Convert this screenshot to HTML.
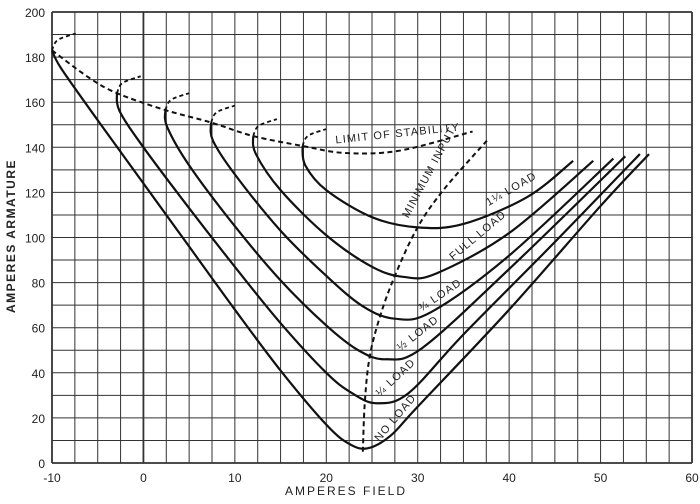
<!DOCTYPE html>
<html><head><meta charset="utf-8"><style>
html,body{margin:0;padding:0;background:#fff}
svg text{font-family:"Liberation Sans",sans-serif;fill:#222}
</style></head><body>
<svg id="chart" width="700" height="499" viewBox="0 0 700 499" xmlns="http://www.w3.org/2000/svg">
<g id="grid"></g>
<g id="curves"></g>
<g id="labels"></g>
<text transform="translate(15,236) rotate(-90)" text-anchor="middle" font-size="12" font-weight="bold" letter-spacing="1.5">AMPERES ARMATURE</text>
<text x="346" y="495" text-anchor="middle" font-size="12" letter-spacing="2">AMPERES FIELD</text>
</svg>
<script>
const xTicks = [-10,0,10,20,30,40,50,60];
const yTicks = [0,20,40,60,80,100,120,140,160,180,200];
const noLoad = [[-10,183],[-9,175],[-5,152],[0,124],[5,96],[10,68],[15,41],[20,17],[22.5,8.5],[24.5,6.5],[27,12],[30,25],[40,68],[50,114],[55.3,137]];
const quarterLoad = [[-2.9,164],[-2.6,156],[0,140],[5,113],[10,87],[15,62],[20,40],[22.8,31],[25.5,26.5],[29,31],[35,57],[45,98],[54.3,137]];
const halfLoad = [[2.4,156.5],[2.6,149],[5,132],[10,105],[15,81],[20,61],[23.5,50],[26.5,46],[30.5,51],[40,86],[52.7,136]];
const threeQuarterLoad = [[7.4,151],[7.6,143],[10,128],[15,103],[20,83],[24,69.5],[27.5,64],[31.5,67],[40,92],[51.4,135]];
const fullLoad = [[12,145],[12.3,137],[15,121],[20,101],[25,87],[28.5,82.5],[32,84],[40,102],[49.2,134]];
const oneQuarterLoad = [[17.4,140.6],[17.7,132],[20,121],[25,109],[30,104.5],[35,106],[42,118],[47,134]];
const minimumInput = [[24,5],[24.2,26],[24.7,46],[25.8,64],[27.5,83],[30,104.6],[33,122],[37.8,144]];
const limitStability = [[-10,183],[-6,171],[-2.9,164],[2.4,156.5],[7.4,151],[12,145],[17.4,140.6],[22,137.5],[28,138.5],[36,147]];
const hookStarts = [[-10,183],[-2.9,164],[2.4,156.5],[7.4,151],[12,145],[17.4,140.6]];
const NS='http://www.w3.org/2000/svg';
const X0=52,X1=692,Y0=463,Y1=12,XMIN=-10,XMAX=60,YMIN=0,YMAX=200;
const sx=v=>X0+(v-XMIN)/(XMAX-XMIN)*(X1-X0);
const sy=v=>Y0-(v-YMIN)/(YMAX-YMIN)*(Y0-Y1);
function mk(tag,attrs,parent){const e=document.createElementNS(NS,tag);for(const k in attrs)e.setAttribute(k,attrs[k]);parent.appendChild(e);return e;}
const grid=document.getElementById('grid');
for(let v=XMIN;v<=XMAX+0.01;v+=2.5){
  const l=mk('line',{x1:sx(v),x2:sx(v),y1:sy(YMIN),y2:sy(YMAX),stroke:'#333','stroke-width':(v===0||v===XMIN||v===XMAX)?1.8:1},grid);
  
  
}
for(let v=YMIN;v<=YMAX;v+=10){
  const l=mk('line',{x1:sx(XMIN),x2:sx(XMAX),y1:sy(v),y2:sy(v),stroke:'#333','stroke-width':(v===0||v===YMAX)?1.8:1},grid);
  
  
}
xTicks.forEach(v=>{const t=mk('text',{x:sx(v),y:482,'text-anchor':'middle','font-size':12},grid);t.textContent=v;
  
  });
yTicks.forEach(v=>{const t=mk('text',{x:45,y:sy(v)+5,'text-anchor':'end','font-size':12},grid);t.textContent=v;
  
  });
function pathD(pts){
  const p=pts.map(q=>[sx(q[0]),sy(q[1])]);
  let d='M'+p[0][0]+','+p[0][1];
  for(let i=0;i<p.length-1;i++){
    const a=p[i-1]||p[i],b=p[i],c=p[i+1],e=p[i+2]||c;
    const c1=[b[0]+(c[0]-a[0])/6,b[1]+(c[1]-a[1])/6],c2=[c[0]-(e[0]-b[0])/6,c[1]-(e[1]-b[1])/6];
    d+=' C'+c1+' '+c2+' '+c;
  }
  return d;
}
const cg=document.getElementById('curves');
[['no-load-curve',noLoad],['quarter-load-curve',quarterLoad],['half-load-curve',halfLoad],['three-quarter-load-curve',threeQuarterLoad],['full-load-curve',fullLoad],['one-quarter-overload-curve',oneQuarterLoad]].forEach(([n,d])=>{
  const p=mk('path',{d:pathD(d),fill:'none',stroke:'#111','stroke-width':2.2},cg);
  
  
});
[['minimum-input-line',minimumInput],['limit-of-stability-line',limitStability]].forEach(([n,d])=>{
  const p=mk('path',{d:pathD(d),fill:'none',stroke:'#111','stroke-width':2,'stroke-dasharray':'5,3.5'},cg);
  
  
});
hookStarts.forEach(h=>{
  const hk=[[h[0],h[1]],[h[0]+0.6,h[1]+4.5],[h[0]+2.6,h[1]+7.5]];
  const p=mk('path',{d:pathD(hk),fill:'none',stroke:'#111','stroke-width':1.8,'stroke-dasharray':'4,3'},cg);
  
  
});
const lg=document.getElementById('labels');
[['LIMIT OF STABILITY',398,137,-6,'limit-of-stability-label'],['MINIMUM INPUT',432,174,-62,'minimum-input-label'],
 ['1¼ LOAD',513,192,-30,'one-quarter-overload-label'],['FULL LOAD',480,238,-40,'full-load-label'],
 ['¾ LOAD',442,298,-34,'three-quarter-load-label'],['½ LOAD',420,336,-38,'half-load-label'],
 ['¼ LOAD',398,380,-43,'quarter-load-label'],['NO LOAD',398,420,-50,'no-load-label']].forEach(([s,x,y,r,n])=>{
  const t=mk('text',{transform:`translate(${x},${y}) rotate(${r})`,'text-anchor':'middle','font-size':11,'letter-spacing':1.2},lg);
  t.textContent=s;
  
  
});
</script>
</body></html>
